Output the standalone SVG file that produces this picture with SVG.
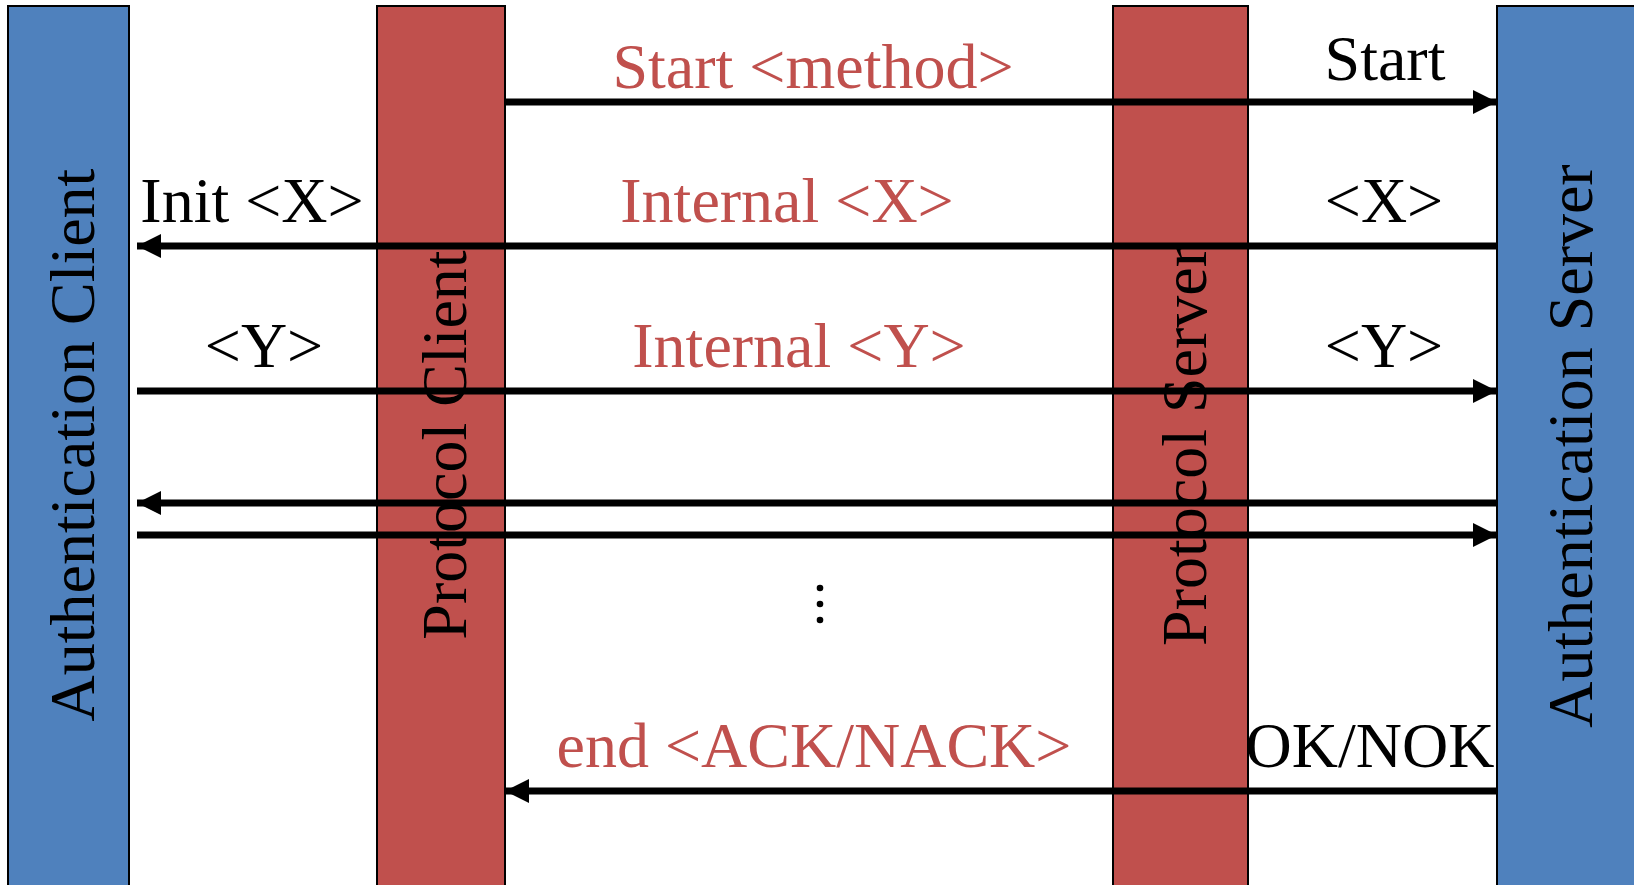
<svg xmlns="http://www.w3.org/2000/svg" width="1634" height="885" viewBox="0 0 1634 885">
  <style>
    .auth { fill: #4F81BD; stroke: #000; stroke-width: 2; }
    .proto { fill: #C0504D; stroke: #000; stroke-width: 2; }
    .lbl { font-family: "Liberation Serif", "Times New Roman", serif; font-size: 64px; text-anchor: middle; }
    .blk { fill: #000; }
    .red { fill: #C0504D; }
    .msg { stroke: #000; stroke-width: 7; fill: none; }
  </style>
  <defs>
    <marker id="head" markerUnits="userSpaceOnUse" markerWidth="24" markerHeight="24" viewBox="0 0 24 24" refX="24" refY="12" orient="auto">
      <path d="M0,0 L24,12 L0,24 Z" fill="#000"/>
    </marker>
  </defs>
  <rect width="1634" height="885" fill="#fff"/>

  <g id="auth-client">
    <rect class="auth" x="8" y="6" width="121" height="890"/>
    <text class="lbl blk" transform="translate(94,445) rotate(-90)">Authentication Client</text>
  </g>
  <g id="protocol-client">
    <rect class="proto" x="377" y="6" width="128" height="890"/>
    <text class="lbl blk" transform="translate(466,445) rotate(-90)">Protocol Client</text>
  </g>
  <g id="protocol-server">
    <rect class="proto" x="1113" y="6" width="135" height="890"/>
    <text class="lbl blk" transform="translate(1206,446) rotate(-90)">Protocol Server</text>
  </g>
  <g id="auth-server">
    <rect class="auth" x="1497" y="6" width="145" height="890"/>
    <text class="lbl blk" transform="translate(1592,446) rotate(-90)">Authentication Server</text>
  </g>

  <g id="connectors">
    <line class="msg" x1="505" y1="102" x2="1497" y2="102" marker-end="url(#head)"/>
    <line class="msg" x1="1497" y1="246" x2="137" y2="246" marker-end="url(#head)"/>
    <line class="msg" x1="137" y1="391" x2="1497" y2="391" marker-end="url(#head)"/>
    <line class="msg" x1="1497" y1="503" x2="137" y2="503" marker-end="url(#head)"/>
    <line class="msg" x1="137" y1="535" x2="1497" y2="535" marker-end="url(#head)"/>
    <line class="msg" x1="1497" y1="791" x2="505" y2="791" marker-end="url(#head)"/>
  </g>

  <g id="labels">
    <text class="lbl red" x="813" y="88">Start &lt;method&gt;</text>
    <text class="lbl blk" x="1385" y="80">Start</text>
    <text class="lbl blk" x="252" y="222">Init &lt;X&gt;</text>
    <text class="lbl red" x="787" y="222">Internal &lt;X&gt;</text>
    <text class="lbl blk" x="1384" y="222">&lt;X&gt;</text>
    <text class="lbl blk" x="264" y="367">&lt;Y&gt;</text>
    <text class="lbl red" x="799" y="367">Internal &lt;Y&gt;</text>
    <text class="lbl blk" x="1384" y="367">&lt;Y&gt;</text>
    <text class="lbl red" x="814" y="767">end &lt;ACK/NACK&gt;</text>
    <text class="lbl blk" x="1370" y="767">OK/NOK</text>
  </g>

  <g id="continuation" fill="#000">
    <circle cx="820" cy="588" r="3.3"/>
    <circle cx="820" cy="604" r="3.3"/>
    <circle cx="820" cy="620" r="3.3"/>
  </g>
</svg>
